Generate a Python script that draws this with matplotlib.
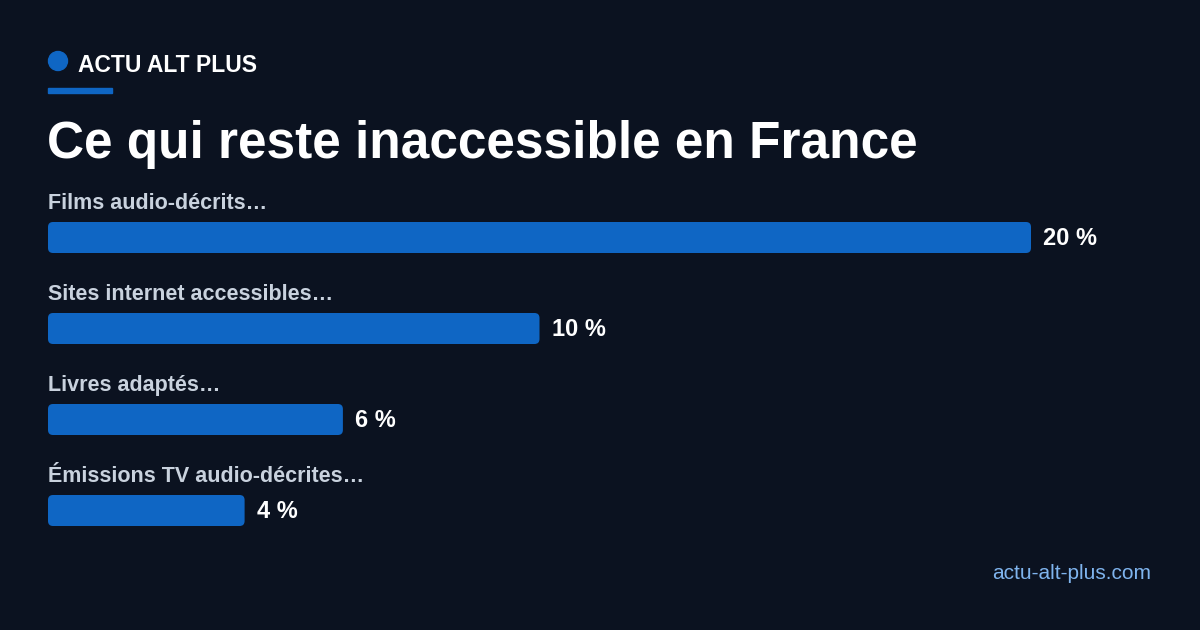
import matplotlib
matplotlib.use("Agg")
import matplotlib.pyplot as plt
from matplotlib.patches import FancyBboxPatch, Circle, Rectangle

categories = ["Films audio-décrits…", "Sites internet accessibles…",
              "Livres adaptés…", "Émissions TV audio-décrites…"]
values = [20, 10, 6, 4]
value_labels = ["20 %", "10 %", "6 %", "4 %"]

BG = "#0b1220"
BLUE = "#0f66c4"
FONT = "Liberation Sans"

fig = plt.figure(figsize=(12, 6.3), dpi=100, facecolor=BG)

# overlay axes in pixel coordinates for text and decorations
ax = fig.add_axes([0, 0, 1, 1])
ax.set_xlim(0, 1200)
ax.set_ylim(630, 0)
ax.axis("off")
ax.set_facecolor(BG)

ax.add_patch(Circle((58, 61), 9.5, color=BLUE))
ax.text(78, 72, "ACTU ALT PLUS", color="white", fontsize=16.5, fontweight="bold",
        family=FONT, va="baseline")
ax.add_patch(Rectangle((48, 88), 64, 4.5, color=BLUE))
ax.text(47, 158, "Ce qui reste inaccessible en France", color="white", fontsize=37,
        fontweight="bold", family=FONT, va="baseline")
ax.text(1151, 579, "actu-alt-plus.com", color="#7fb4ee", fontsize=15, family=FONT,
        ha="right", va="baseline")

# bar axes: x in data units, y in pixels
left, right = 48, 1031
bx = fig.add_axes([left / 1200, 0, (right - left) / 1200, 1])
bx.set_xlim(0, max(values))
bx.set_ylim(630, 0)
bx.axis("off")
px_per_unit = (right - left) / max(values)

bar_tops = [222, 313, 404, 495]
bar_h = 31
for cat, v, lab, top in zip(categories, values, value_labels, bar_tops):
    bx.add_patch(FancyBboxPatch((0, top), v, bar_h,
                                boxstyle="round,pad=0,rounding_size=%f" % (5 / px_per_unit),
                                mutation_aspect=px_per_unit, color=BLUE, lw=0))
    bx.text(0, top - 13, cat, color="#c9d2de", fontsize=15.5, fontweight="bold",
            family=FONT, va="baseline")
    bx.text(v + 12 / px_per_unit, top + bar_h / 2 + 1, lab, color="white", fontsize=17,
            fontweight="bold", family=FONT, va="center")

fig.savefig("out.png", facecolor=BG)
